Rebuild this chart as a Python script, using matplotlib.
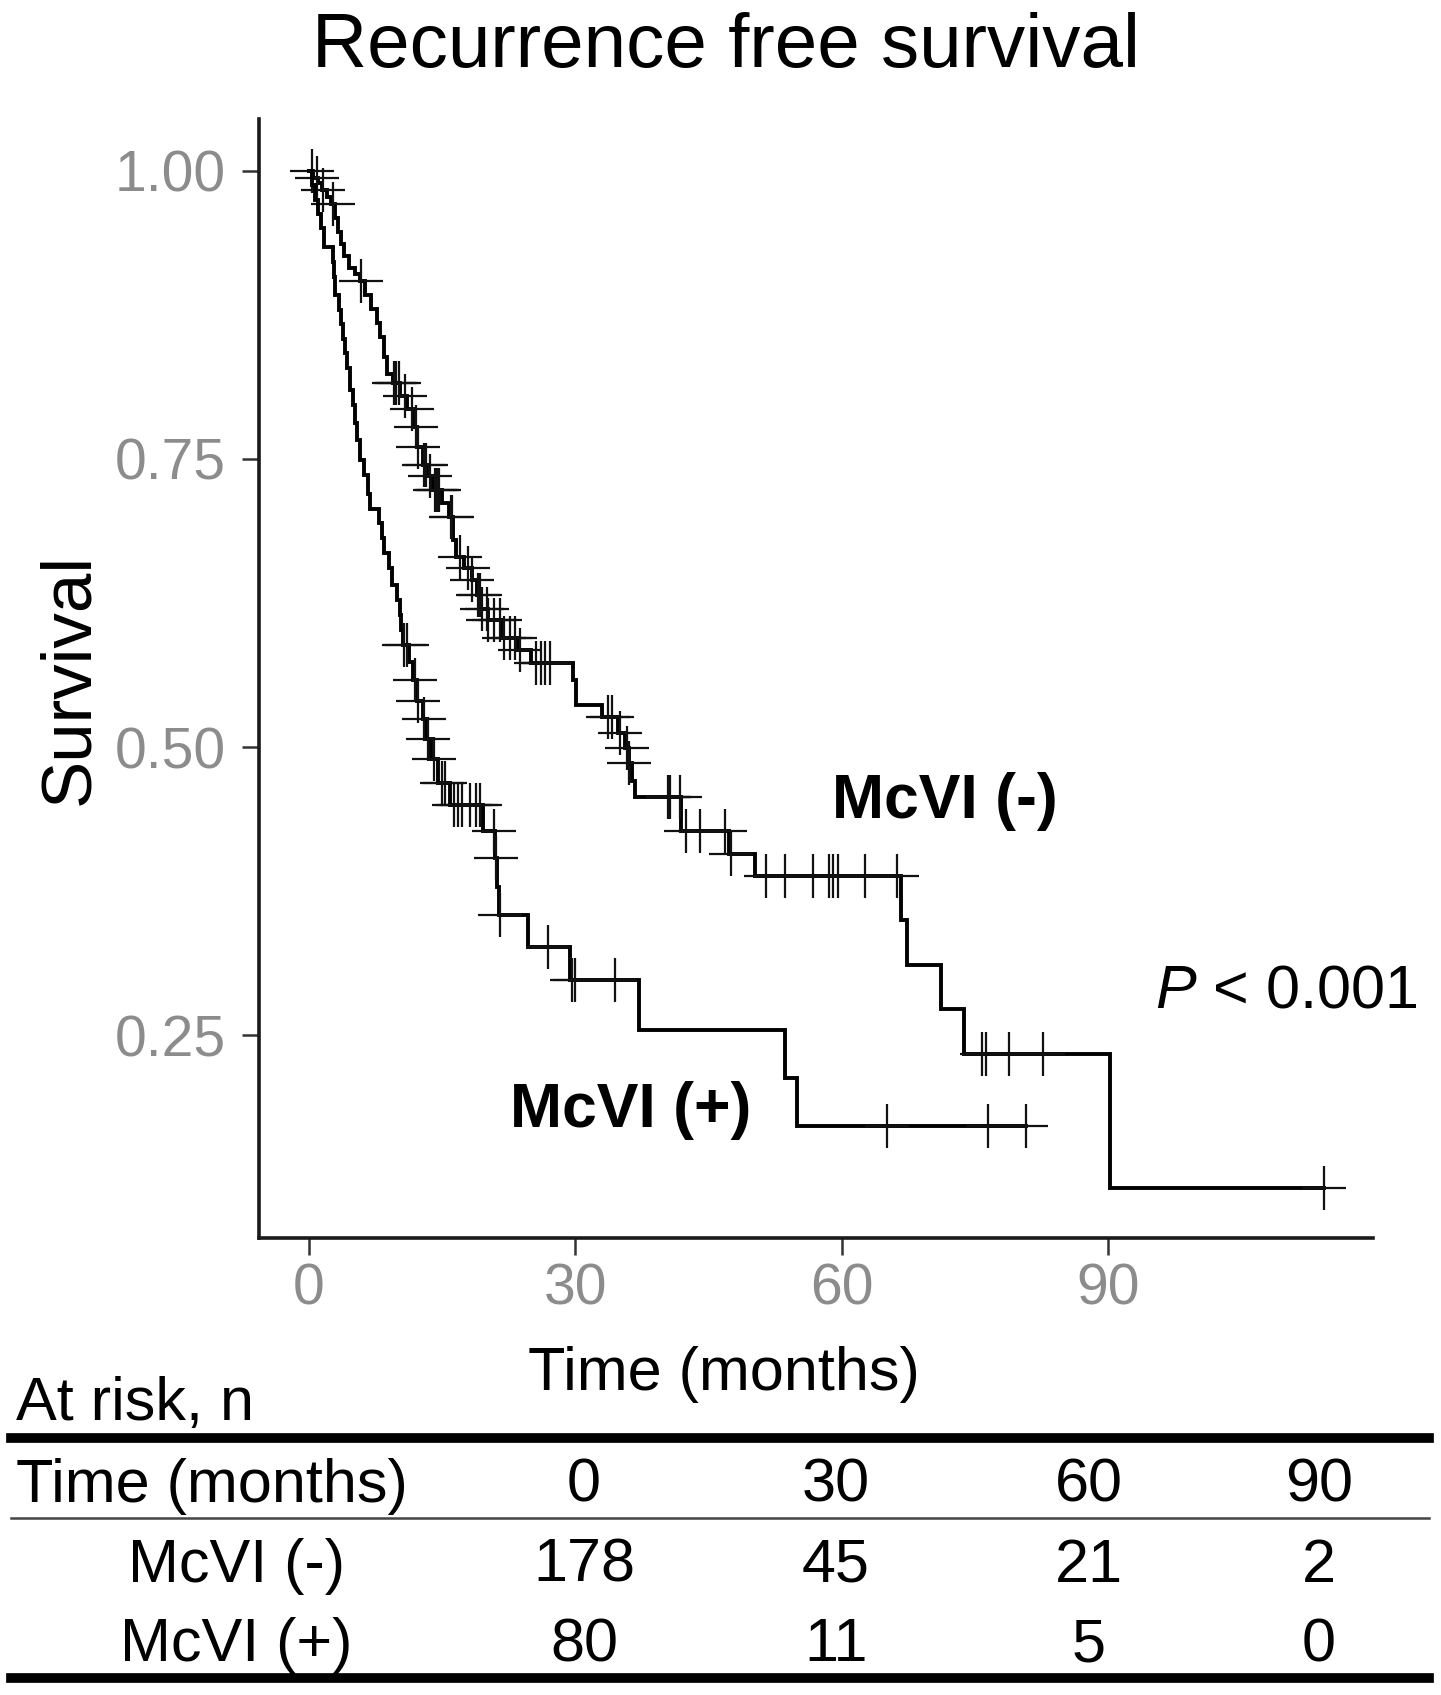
import numpy as np
import matplotlib
matplotlib.use('Agg')
import matplotlib.pyplot as plt
from matplotlib.lines import Line2D

plt.rcParams['font.family'] = ['Liberation Sans', 'DejaVu Sans']
plt.rcParams['mathtext.fontset'] = 'custom'
plt.rcParams['mathtext.rm'] = 'Liberation Sans'
plt.rcParams['mathtext.it'] = 'Liberation Sans:italic'

# McVI (-): event times (months) and survival after each event
neg_event_t = [0.5, 1.0, 1.5, 2.0, 2.5, 2.9, 3.3, 3.6, 3.9, 4.5, 5.2, 5.7, 6.3, 7.0,
               7.6, 8.0, 8.4, 8.8, 9.5, 10.2, 11.0, 11.7, 12.2, 12.8, 13.3, 14.0,
               15.0, 15.8, 16.2, 16.6, 17.5, 18.3, 18.9, 19.4, 20.1, 21.6, 23.5,
               25.0, 29.7, 30.1, 33.0, 34.8, 35.6, 36.0, 36.4, 36.7, 41.9, 47.3,
               50.2, 66.6, 67.3, 71.2, 73.7, 90.2]
neg_event_s = [0.994, 0.989, 0.983, 0.977, 0.971, 0.959, 0.947, 0.936, 0.926, 0.916,
               0.910, 0.904, 0.892, 0.880, 0.868, 0.856, 0.838, 0.824, 0.816, 0.805,
               0.793, 0.778, 0.760, 0.745, 0.735, 0.723, 0.712, 0.700, 0.680, 0.665,
               0.655, 0.645, 0.632, 0.620, 0.610, 0.595, 0.584, 0.573, 0.558, 0.537,
               0.526, 0.512, 0.499, 0.486, 0.471, 0.457, 0.427, 0.407, 0.388, 0.350,
               0.311, 0.273, 0.234, 0.118]
neg_end = 114.3
neg_censor = [0.3, 0.9, 1.6, 2.7, 5.9, 9.6, 9.8, 10.1, 10.8, 11.6, 12.0, 12.3, 12.9,
              13.2, 13.6, 14.2, 14.4, 14.6, 16.0, 16.1, 17.0, 17.9, 18.3, 19.0, 19.3,
              19.5, 20.0, 20.2, 20.8, 21.5, 22.0, 22.6, 23.2, 23.8, 25.6, 26.1, 26.6,
              27.1, 33.7, 34.1, 35.0, 35.8, 36.0, 40.4, 40.6, 41.8, 42.5, 44.0, 46.8,
              47.5, 51.4, 53.6, 56.8, 58.5, 59.0, 59.6, 62.6, 66.2, 75.8, 76.2, 78.8,
              82.7, 114.3]

# McVI (+)
pos_event_t = [0.3, 0.7, 1.0, 1.4, 1.7, 2.7, 2.8, 2.9, 3.4, 3.6, 3.8, 4.0, 4.3, 4.6,
               5.0, 5.2, 5.4, 5.7, 6.2, 6.6, 6.9, 7.9, 8.2, 8.4, 9.0, 9.3, 9.9, 10.2,
               10.4, 10.6, 11.3, 11.7, 12.2, 12.8, 13.2, 13.7, 14.5, 15.9, 19.6, 20.9,
               21.2, 21.4, 24.7, 29.4, 37.1, 53.6, 54.9]
pos_event_s = [0.9875, 0.975, 0.9625, 0.950, 0.934, 0.921, 0.908, 0.892, 0.879, 0.867,
               0.854, 0.842, 0.829, 0.810, 0.797, 0.781, 0.766, 0.749, 0.736, 0.720,
               0.707, 0.694, 0.681, 0.668, 0.655, 0.641, 0.628, 0.615, 0.602, 0.589,
               0.574, 0.558, 0.540, 0.524, 0.507, 0.490, 0.469, 0.450, 0.427, 0.404,
               0.379, 0.354, 0.327, 0.298, 0.255, 0.213, 0.171]
pos_end = 80.7
pos_censor = [10.7, 11.0, 11.9, 12.3, 13.0, 13.4, 14.1, 15.0, 15.3, 16.3, 16.8, 17.2,
              18.1, 18.8, 19.3, 20.8, 21.1, 21.5, 26.9, 29.6, 30.0, 34.5, 65.1, 76.4,
              80.7]

# At-risk table
risk_times = [0, 30, 60, 90]
risk_neg = [178, 45, 21, 2]
risk_pos = [80, 11, 5, 0]

W, H = 1441, 1695
fig = plt.figure(figsize=(W / 100, H / 100), dpi=100)


def fx(px):
    return px / W


def fy(py):
    return 1 - py / H


ax = fig.add_axes([fx(259), fy(1238.3), fx(1373 - 259), (1238.3 - 119.4) / H])


def draw_km(ax, ev_t, ev_s, end, cens):
    t = np.array([0.0] + ev_t + [end])
    s = np.array([1.0] + ev_s + [ev_s[-1]])
    ax.plot(t, s, drawstyle='steps-post', color='black', lw=2.8, solid_joinstyle='miter')
    idx = np.searchsorted(t, cens, side='right') - 1
    ax.plot(cens, s[idx], ls='none', marker='+', ms=32, mew=1.6, color='#111111')


draw_km(ax, neg_event_t, neg_event_s, neg_end, neg_censor)
draw_km(ax, pos_event_t, pos_event_s, pos_end, pos_censor)

ax.set_xlim(-5.63, 119.8)
ax.set_ylim(0.074, 1.0445)
ax.set_xticks(risk_times)
ax.set_yticks([0.25, 0.50, 0.75, 1.00])
ax.set_yticklabels(['0.25', '0.50', '0.75', '1.00'])
for side in ['top', 'right']:
    ax.spines[side].set_visible(False)
for side in ['left', 'bottom']:
    ax.spines[side].set_linewidth(2.6)
    ax.spines[side].set_color('#1a1a1a')
ax.tick_params(length=12, width=1.8, color='#333333', labelsize=41, labelcolor='#8c8c8c')
ax.tick_params(axis='x', pad=5.5)
ax.tick_params(axis='y', pad=12)

# titles and annotations
fig.text(fx(726), fy(67), 'Recurrence free survival', fontsize=55, ha='center', va='baseline')
fig.text(fx(88), fy(679), 'Survival', fontsize=51, rotation=90, rotation_mode='anchor',
         ha='center', va='baseline')
fig.text(fx(724), fy(1390), 'Time (months)', fontsize=44, ha='center', va='baseline')
fig.text(fx(832), fy(818), 'McVI (-)', fontsize=45, fontweight='bold', va='baseline')
fig.text(fx(510), fy(1127), 'McVI (+)', fontsize=45, fontweight='bold', va='baseline')
fig.text(fx(1155), fy(1008), r'$P$ < 0.001', fontsize=44, va='baseline')

# at risk table
col_x = [584, 836, 1089, 1319]
fig.text(fx(16), fy(1420), 'At risk, n', fontsize=44, va='baseline')
fig.add_artist(Line2D([fx(11), fx(1429)], [fy(1438), fy(1438)], lw=7, color='black'))
fig.add_artist(Line2D([fx(11), fx(1429)], [fy(1518), fy(1518)], lw=1.8, color='#444444'))
fig.add_artist(Line2D([fx(11), fx(1429)], [fy(1678), fy(1678)], lw=7, color='black'))
fig.text(fx(16), fy(1502), 'Time (months)', fontsize=44, va='baseline')
fig.text(fx(236), fy(1582), 'McVI (-)', fontsize=44, ha='center', va='baseline')
fig.text(fx(236), fy(1661), 'McVI (+)', fontsize=44, ha='center', va='baseline')
for x, tm, a, b in zip(col_x, risk_times, risk_neg, risk_pos):
    fig.text(fx(x), fy(1502), str(tm), fontsize=44, ha='center', va='baseline')
    fig.text(fx(x), fy(1582), str(a), fontsize=44, ha='center', va='baseline')
    fig.text(fx(x), fy(1661), str(b), fontsize=44, ha='center', va='baseline')

fig.savefig('out.png', dpi=100)
